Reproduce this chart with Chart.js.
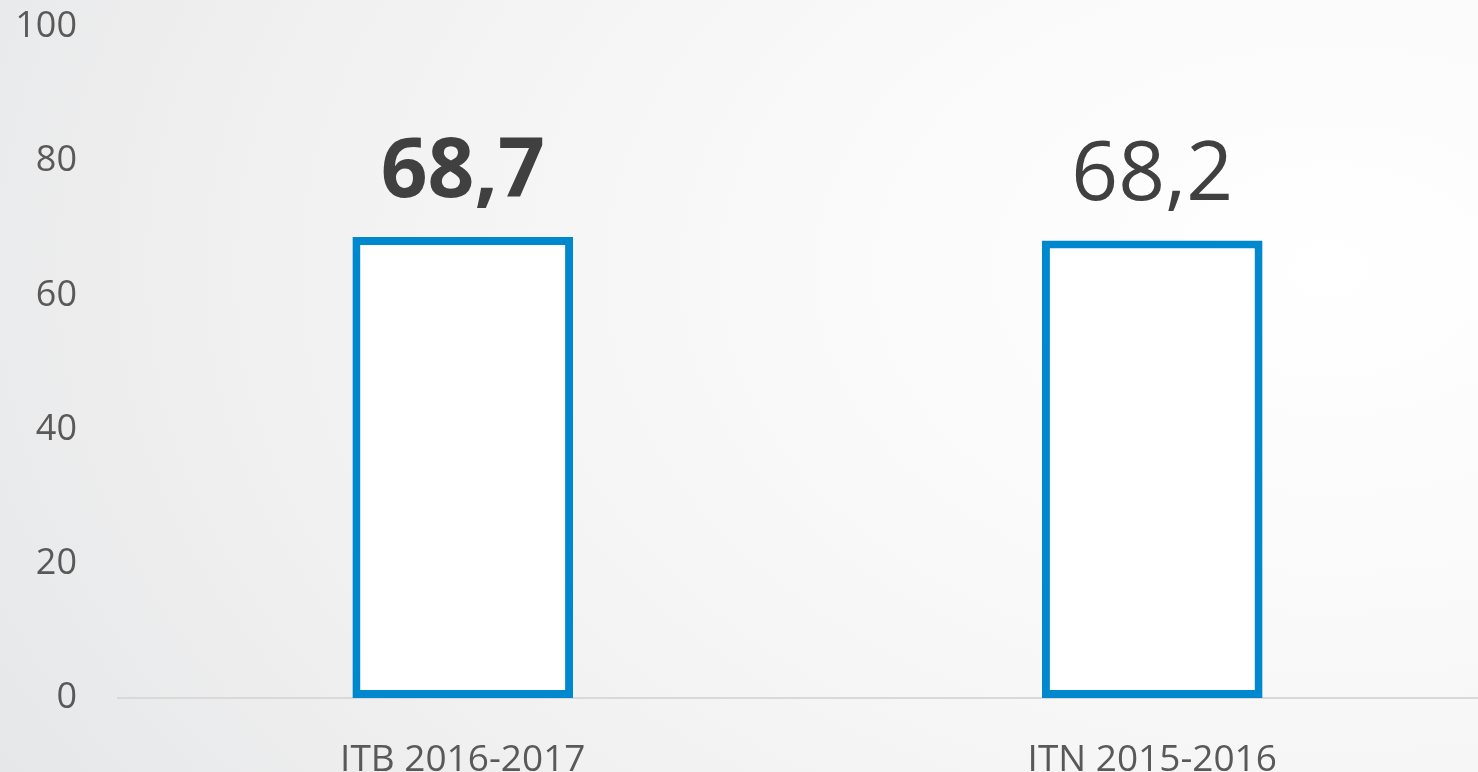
<!DOCTYPE html>
<html>
<head>
<meta charset="utf-8">
<script src="https://cdn.jsdelivr.net/npm/chart.js@4/dist/chart.umd.min.js"></script>
<style>
  html, body { margin: 0; padding: 0; width: 1478px; height: 772px; overflow: hidden; }
  body { background: radial-gradient(ellipse 110% 140% at 90% 35%, #ffffff 0%, #f9f9f9 35%, #f1f1f2 65%, #e4e5e6 100%); }
  #wrap { position: absolute; left: 0; top: 0; width: 1497px; height: 772px; }
</style>
</head>
<body>
<div id="wrap"><canvas id="c" width="1497" height="772"></canvas></div>
<script>
const categories = ["ITB 2016-2017", "ITN 2015-2016"];
const values = [68.7, 68.2];
const valueLabels = ["68,7", "68,2"];
const labelBold = [true, false];
const yTicks = [0, 20, 40, 60, 80, 100];

const labelPlugin = {
  id: 'valueLabels',
  afterDatasetsDraw(chart) {
    const ctx = chart.ctx;
    const meta = chart.getDatasetMeta(0);
    ctx.save();
    ctx.fillStyle = '#404040';
    ctx.textAlign = 'center';
    ctx.textBaseline = 'alphabetic';
    meta.data.forEach((bar, i) => {
      ctx.font = (labelBold[i] ? 'bold ' : '') + '82px "Open Sans"';
      ctx.fillText(valueLabels[i], bar.x, bar.y - 40);
    });
    ctx.restore();
  }
};

new Chart(document.getElementById('c'), {
  type: 'bar',
  data: {
    labels: categories,
    datasets: [{
      data: values,
      backgroundColor: '#ffffff',
      borderColor: '#0088cf',
      borderWidth: 8,
      borderSkipped: false,
      categoryPercentage: 1,
      barPercentage: 0.32
    }]
  },
  options: {
    responsive: false,
    animation: false,
    layout: { padding: { left: 0, right: 0, top: 27, bottom: 0 } },
    plugins: { legend: { display: false }, tooltip: { enabled: false } },
    scales: {
      x: {
        grid: { display: false },
        border: { display: true, color: '#d9d9d9', width: 2 },
        ticks: { color: '#595959', font: { family: 'Open Sans', size: 37 }, padding: 32, maxRotation: 0 },
        afterFit(s) { s.height = 74; s.paddingLeft = 0; s.paddingRight = 0; }
      },
      y: {
        min: 0, max: 100,
        afterBuildTicks(s) { s.ticks = yTicks.map(v => ({ value: v })); },
        grid: { display: false, drawTicks: false },
        border: { display: false },
        ticks: { color: '#595959', font: { family: 'Open Sans', size: 36 }, padding: 41 },
        afterFit(s) { s.width = 118; s.paddingTop = 0; s.paddingBottom = 0; }
      }
    }
  },
  plugins: [labelPlugin]
});
</script>
</body>
</html>
